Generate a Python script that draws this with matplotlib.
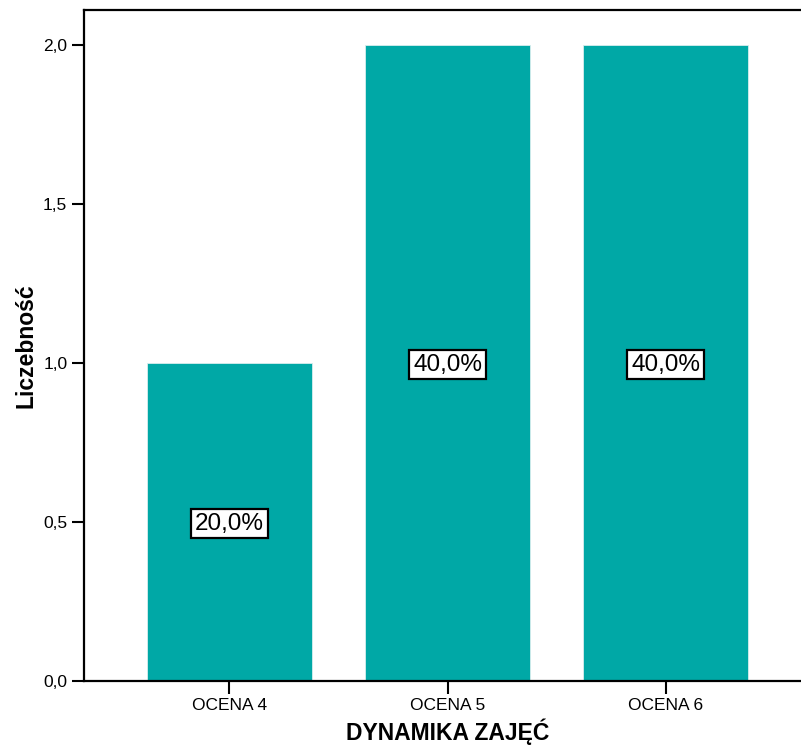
import matplotlib

matplotlib.use("Agg")
import matplotlib.pyplot as plt

plt.rcParams["font.family"] = ["Liberation Sans", "DejaVu Sans"]

categories = ["OCENA 4", "OCENA 5", "OCENA 6"]
counts = [1, 2, 2]
pct_labels = ["20,0%", "40,0%", "40,0%"]
label_y = [0.5, 1.0, 1.0]
yticks = [0.0, 0.5, 1.0, 1.5, 2.0]

fig = plt.figure(figsize=(8.01, 7.49), dpi=100)
ax = fig.add_axes([84 / 801, 1 - 681 / 749, (811 - 84) / 801, (681 - 10) / 749])

x = list(range(len(categories)))
ax.bar(x, counts, width=0.757, color="#00A8A6", edgecolor="#d8eeee", linewidth=0.6, zorder=2)

for xi, txt, yy in zip(x, pct_labels, label_y):
    ax.text(xi, yy - 0.005, txt, ha="center", va="center", fontsize=17.5, zorder=3,
            bbox=dict(boxstyle="square,pad=0.15", facecolor="white", edgecolor="black", linewidth=1.6))

ax.set_xlim(-0.667, 2.667)
ax.set_ylim(0, 2.11)
ax.set_xticks(x)
ax.set_xticklabels(categories)
ax.set_yticks(yticks)
ax.set_yticklabels([f"{v:.1f}".replace(".", ",") for v in yticks])
ax.tick_params(axis="both", length=9, width=1.5, labelsize=12.5, pad=3)

for s in ax.spines.values():
    s.set_linewidth(1.6)

ax.set_xlabel("DYNAMIKA ZAJĘĆ", fontsize=16.5, fontweight="bold", labelpad=4)
ax.set_ylabel("Liczebność", fontsize=16.5, fontweight="bold", labelpad=4)

fig.savefig("out.png", dpi=100)
